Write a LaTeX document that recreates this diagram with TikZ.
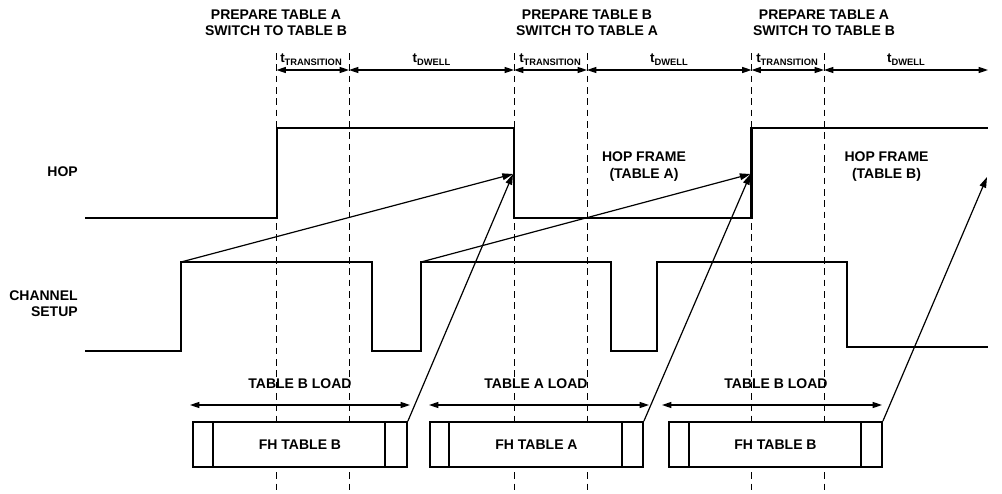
\documentclass[tikz,border=0pt]{standalone}
\usepackage{fontspec}
\setmainfont{Liberation Sans}
\usetikzlibrary{arrows.meta}
\newcommand{\tsub}[1]{{\fontsize{10}{10}\selectfont t}{\fontsize{7}{8}\selectfont\raisebox{-2.4pt}{#1}}}
\begin{document}
\begin{tikzpicture}[x=0.75pt,y=-0.75pt,
  lbl/.style={font=\fontsize{10.5}{12.2}\selectfont\bfseries, inner sep=0pt, align=center},
  tlbl/.style={font=\bfseries, inner sep=0pt},
  sig/.style={line width=1.6pt, line join=miter},
  gridline/.style={dash pattern=on 5pt off 3.5pt, line width=0.7pt},
  tarrow/.style={line width=0.9pt, {Triangle[length=7pt,width=4.5pt]}-{Triangle[length=7pt,width=4.5pt]}},
  ptr/.style={line width=0.9pt, -{Triangle[length=8pt,width=5pt]}},
  fhbox/.style={draw, line width=1.3pt, fill=white, minimum height=33.75pt, inner sep=0pt,
    font=\fontsize{10.5}{12}\selectfont\bfseries}
]
\useasboundingbox (0,0) rectangle (1002,493);

% dashed timing lines
\foreach \n/\x in {1/276.5,2/349,3/514,4/587,5/751.5,6/824}{
  \coordinate (top\n) at (\x,53);
  \coordinate (bot\n) at (\x,493);
  \coordinate (d\n) at (\x,70);
  \draw[gridline] (top\n) -- (bot\n);
}
\coordinate (dend) at (988,70);

% top labels
\node[lbl] (lab1) at (276,22.5) {PREPARE TABLE A\\SWITCH TO TABLE B};
\node[lbl] (lab2) at (587,22.5) {PREPARE TABLE B\\SWITCH TO TABLE A};
\node[lbl] (lab3) at (824,22.5) {PREPARE TABLE A\\SWITCH TO TABLE B};

% timing arrows
\draw[tarrow] (d1) -- (d2);
\draw[tarrow] (d2) -- (d3);
\draw[tarrow] (d3) -- (d4);
\draw[tarrow] (d4) -- (d5);
\draw[tarrow] (d5) -- (d6);
\draw[tarrow] (d6) -- (dend);
\node[tlbl] (tt1) at (311,59.5) {\tsub{TRANSITION}};
\node[tlbl] (tw1) at (431.5,59.5) {\tsub{DWELL}};
\node[tlbl] (tt2) at (550,59.5) {\tsub{TRANSITION}};
\node[tlbl] (tw2) at (669,59.5) {\tsub{DWELL}};
\node[tlbl] (tt3) at (787,59.5) {\tsub{TRANSITION}};
\node[tlbl] (tw3) at (906,59.5) {\tsub{DWELL}};

% signal names
\node[lbl, anchor=east, align=right] (hop) at (78,171.5) {HOP};
\node[lbl, anchor=east, align=right] (chs) at (78,303.5) {CHANNEL\\SETUP};

% HOP waveform
\draw[sig] (85,218) -- (277,218) -- (277,128) -- (514,128) -- (514,218) -- (751.5,218) -- (751.5,128) -- (988,128);
% CHANNEL SETUP waveform
\draw[sig] (85,351) -- (181,351) -- (181,262) -- (372,262) -- (372,351) -- (421,351) -- (421,262)
  -- (611,262) -- (611,351) -- (657,351) -- (657,262) -- (847,262) -- (847,347) -- (988,347);

\node[lbl] (hfa) at (644,166.5) {HOP FRAME\\(TABLE A)};
\node[lbl] (hfb) at (886.5,166.5) {HOP FRAME\\(TABLE B)};

% FH table boxes
\node[fhbox, minimum width=160.5pt] (fb1) at (300,444.5) {FH TABLE B};
\node[fhbox, minimum width=159.75pt] (fb2) at (536.5,444.5) {FH TABLE A};
\node[fhbox, minimum width=159.75pt] (fb3) at (775.5,444.5) {FH TABLE B};
\draw[line width=1.3pt] (fb1.north west) ++(20.7,0) -- ++(0,45);
\draw[line width=1.3pt] (fb1.north east) ++(-23,0) -- ++(0,45);
\draw[line width=1.3pt] (fb2.north west) ++(20,0) -- ++(0,45);
\draw[line width=1.3pt] (fb2.north east) ++(-22,0) -- ++(0,45);
\draw[line width=1.3pt] (fb3.north west) ++(21,0) -- ++(0,45);
\draw[line width=1.3pt] (fb3.north east) ++(-22,0) -- ++(0,45);

% load arrows
\coordinate (l1a) at (190,405); \coordinate (l1b) at (410,405);
\coordinate (l2a) at (429,405); \coordinate (l2b) at (649,405);
\coordinate (l3a) at (662,405); \coordinate (l3b) at (882,405);
\draw[tarrow] (l1a) -- (l1b);
\draw[tarrow] (l2a) -- (l2b);
\draw[tarrow] (l3a) -- (l3b);
\node[lbl] (ld1) at (300,384) {TABLE B LOAD};
\node[lbl] (ld2) at (536,384) {TABLE A LOAD};
\node[lbl] (ld3) at (776,384) {TABLE B LOAD};

% pointer arrows
\coordinate (c1) at (181,262);
\coordinate (c2) at (421,262);
\coordinate (h1) at (513,174);
\coordinate (h2) at (750.5,174);
\coordinate (h3) at (987,177);
\draw[ptr] (c1) -- (h1);
\draw[ptr] (fb1.north east) -- (h1);
\draw[ptr] (c2) -- (h2);
\draw[ptr] (fb2.north east) -- (h2);
\draw[ptr] (fb3.north east) -- (h3);
\end{tikzpicture}
\end{document}
